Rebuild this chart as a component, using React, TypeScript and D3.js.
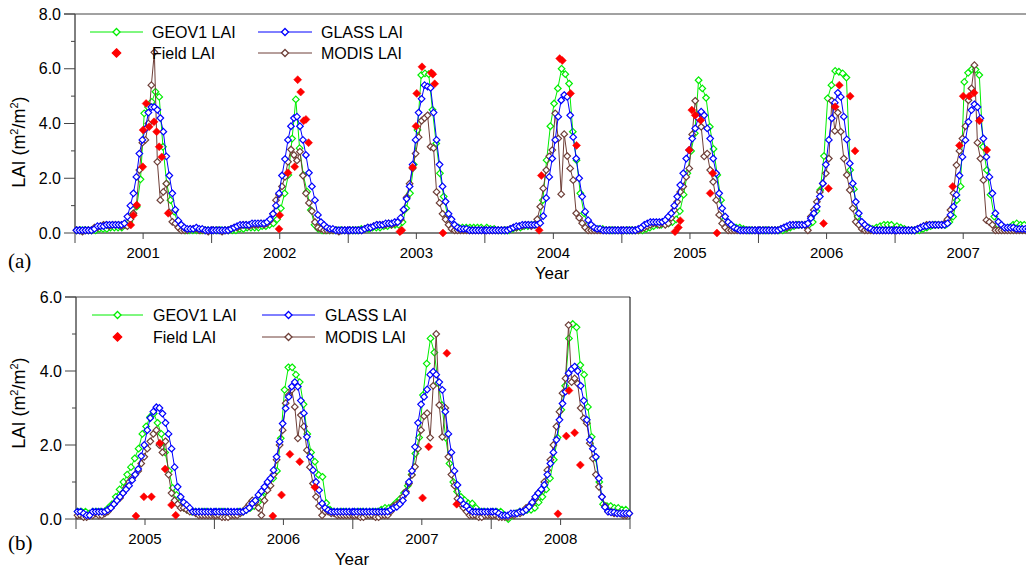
import React from "react";
import * as d3 from "d3";

// ---------- panel (a): 2001-2007 ----------
const yearsA = [2001, 2002, 2003, 2004, 2005, 2006, 2007];

// GLASS LAI, 8-day, 46 values per year
const glassA = [
  [0.1,0.1,0.1,0.1,0.1,0.1,0.15,0.25,0.25,0.25, 0.3,0.3,0.3,0.3,0.3,0.3,0.35,0.6,1.0,1.45, 2.05,2.9,3.4,3.8,4.4,4.6,4.6,4.5,4.2,3.7, 2.8,2.1,1.45,0.85,0.45,0.3,0.2,0.15,0.15,0.15, 0.2,0.15,0.15,0.1,0.1,0.1],
  [0.1,0.1,0.1,0.1,0.1,0.1,0.15,0.2,0.25,0.3, 0.3,0.3,0.3,0.35,0.35,0.35,0.35,0.35,0.4,0.5, 0.7,1.0,1.45,2.1,2.7,3.4,3.9,4.2,4.25,3.9, 3.4,2.85,2.2,1.7,1.2,0.66,0.4,0.3,0.2,0.15, 0.15,0.1,0.1,0.1,0.1,0.1],
  [0.1,0.1,0.1,0.1,0.1,0.15,0.2,0.2,0.25,0.3, 0.3,0.3,0.35,0.35,0.35,0.4,0.4,0.55,0.85,1.25, 1.7,2.5,3.4,4.4,4.9,5.4,5.35,5.3,4.4,3.4, 2.5,1.7,1.15,0.7,0.5,0.3,0.2,0.15,0.15,0.15, 0.1,0.1,0.1,0.1,0.1,0.1],
  [0.1,0.1,0.1,0.1,0.1,0.1,0.1,0.1,0.15,0.2, 0.25,0.25,0.3,0.3,0.3,0.3,0.3,0.3,0.36,0.62, 1.28,2.05,2.72,3.4,4.25,4.85,5.04,4.97,4.3,3.5, 2.72,2.0,1.33,0.78,0.47,0.3,0.2,0.15,0.15,0.1, 0.1,0.1,0.1,0.1,0.1,0.1],
  [0.1,0.1,0.1,0.1,0.1,0.15,0.2,0.3,0.35,0.4, 0.4,0.4,0.4,0.41,0.47,0.6,0.72,1.0,1.33,1.75, 2.18,2.72,3.03,3.45,3.82,4.19,4.43,4.3,3.82,3.45, 2.72,2.18,1.45,0.9,0.6,0.4,0.3,0.2,0.15,0.1, 0.1,0.1,0.1,0.1,0.1,0.1],
  [0.1,0.1,0.1,0.1,0.1,0.1,0.1,0.15,0.2,0.25, 0.3,0.3,0.3,0.3,0.3,0.3,0.35,0.54,0.72,0.96, 1.33,1.81,2.5,3.4,4.19,4.76,5.12,4.97,4.25,3.42, 2.54,1.81,1.14,0.72,0.41,0.3,0.2,0.15,0.1,0.1, 0.1,0.1,0.1,0.1,0.1,0.1],
  [0.1,0.1,0.1,0.1,0.1,0.1,0.1,0.15,0.2,0.25, 0.25,0.3,0.3,0.3,0.3,0.3,0.3,0.35,0.66,0.96, 1.39,2.1,2.78,3.39,4.06,4.49,4.7,4.6,4.19,3.45, 2.78,2.05,1.45,0.72,0.41,0.3,0.2,0.2,0.2,0.2, 0.15,0.15,0.15,0.15,0.15,0.15],
];

// MODIS LAI, 8-day, 46 values per year
const modisA = [
  [0.1,0.1,0.05,0.1,0.1,0.1,0.2,0.2,0.25,0.3, 0.3,0.25,0.3,0.3,0.3,0.25,0.3,0.25,0.5,0.72, 1.0,2.3,3.3,3.4,4.0,5.4,6.6,2.6,1.2,1.5, 1.8,0.75,0.41,0.35,0.2,0.1,0.1,0.1,0.15,0.15, 0.15,0.1,0.1,0.1,0.05,0.1],
  [0.1,0.1,0.1,0.05,0.1,0.1,0.15,0.2,0.2,0.25, 0.3,0.3,0.25,0.3,0.3,0.3,0.35,0.3,0.35,0.45, 0.7,1.2,1.4,1.7,2.05,2.6,3.05,2.85,2.65,2.97, 2.1,1.45,1.1,0.8,0.4,0.2,0.15,0.1,0.1,0.1, 0.1,0.1,0.05,0.1,0.1,0.1],
  [0.1,0.1,0.1,0.1,0.1,0.15,0.2,0.2,0.25,0.3, 0.3,0.3,0.3,0.35,0.3,0.35,0.4,0.5,0.84,1.3, 1.8,2.36,2.9,3.5,4.1,4.2,4.3,3.15,3.1,1.5, 1.1,0.7,0.5,0.3,0.15,0.1,0.1,0.1,0.1,0.1, 0.1,0.1,0.1,0.1,0.1,0.1],
  [0.1,0.1,0.1,0.1,0.1,0.1,0.1,0.1,0.15,0.2, 0.2,0.25,0.25,0.3,0.3,0.25,0.3,0.5,0.96,1.63, 2.3,2.8,3.03,4.37,3.45,1.42,3.61,2.81,2.36,1.93, 0.72,0.55,0.36,0.2,0.1,0.1,0.1,0.1,0.1,0.1, 0.1,0.1,0.1,0.1,0.1,0.1],
  [0.1,0.1,0.1,0.1,0.1,0.1,0.15,0.2,0.25,0.3, 0.35,0.35,0.3,0.35,0.3,0.35,0.55,0.84,1.14,1.5, 1.7,2.05,2.36,3.6,4.83,4.25,3.88,2.8,2.9,2.3, 1.87,1.2,0.66,0.35,0.2,0.1,0.1,0.1,0.1,0.1, 0.1,0.1,0.1,0.1,0.1,0.1],
  [0.1,0.1,0.1,0.1,0.1,0.1,0.1,0.15,0.2,0.2, 0.25,0.3,0.3,0.3,0.3,0.3,0.1,0.6,0.84,1.14, 1.5,1.81,2.18,2.72,4.83,3.73,4.4,3.7,2.72,2.12, 1.57,0.9,0.41,0.3,0.15,0.1,0.1,0.1,0.1,0.1, 0.1,0.1,0.1,0.1,0.1,0.1],
  [0.1,0.1,0.1,0.1,0.1,0.1,0.1,0.15,0.2,0.25, 0.3,0.3,0.3,0.3,0.3,0.3,0.35,0.5,0.84,1.45, 2.48,3.0,3.45,3.9,4.85,5.28,6.13,3.3,2.72,1.93, 0.47,0.4,0.3,0.1,0.1,0.1,0.1,0.1,0.1,0.1, 0.1,0.1,0.1,0.1,0.1,0.1],
];

// GEOV1 LAI, 10-day, 36 values per year
const geov1A = [
  [0.1,0.1,0.1,0.1,0.1,0.1,0.15,0.15,0.15,0.2, 0.2,0.2,0.2,0.3,0.4,0.7,0.96,1.96,4.37,4.6, 4.79,5.16,4.97,3.15,1.8,1.2,0.78,0.35,0.15,0.1, 0.1,0.1,0.1,0.1,0.1,0.1],
  [0.1,0.1,0.1,0.1,0.1,0.1,0.1,0.15,0.15,0.2, 0.2,0.2,0.2,0.25,0.25,0.3,0.35,0.5,0.9,1.45, 2.12,3.45,4.88,3.1,2.12,1.51,0.84,0.3,0.15,0.1, 0.1,0.1,0.1,0.1,0.1,0.1],
  [0.1,0.1,0.1,0.15,0.15,0.15,0.2,0.2,0.2,0.25, 0.25,0.3,0.3,0.3,0.4,0.9,1.45,2.5,3.76,5.77, 5.83,5.8,4.5,3.27,2.18,1.33,0.66,0.36,0.2,0.2, 0.2,0.2,0.2,0.2,0.2,0.2],
  [0.2,0.15,0.15,0.1,0.1,0.1,0.1,0.15,0.2,0.2, 0.25,0.25,0.3,0.3,0.4,1.2,2.66,3.9,4.73,5.28, 6.0,5.8,5.46,3.7,2.66,1.45,0.72,0.3,0.2,0.15, 0.15,0.15,0.1,0.1,0.1,0.1],
  [0.1,0.1,0.1,0.1,0.1,0.1,0.15,0.2,0.25,0.3, 0.3,0.35,0.35,0.4,0.5,0.8,1.4,2.18,3.0,3.64, 5.58,5.28,4.94,3.88,3.07,2.12,1.2,0.5,0.3,0.2, 0.2,0.2,0.15,0.1,0.1,0.1],
  [0.1,0.1,0.1,0.1,0.1,0.1,0.1,0.15,0.2,0.25, 0.3,0.3,0.3,0.3,0.4,0.8,1.57,2.81,4.92,5.4, 5.92,5.89,5.83,5.68,2.3,1.6,0.6,0.35,0.2,0.2, 0.15,0.2,0.25,0.3,0.3,0.3],
  [0.25,0.2,0.15,0.1,0.1,0.1,0.1,0.15,0.2,0.25, 0.3,0.3,0.3,0.3,0.4,0.6,1.2,1.7,5.52,5.85, 5.98,5.97,5.77,3.15,2.3,1.4,0.6,0.3,0.2,0.15, 0.2,0.3,0.35,0.3,0.3,0.2],
];

// Field LAI: [year, day of year, LAI]
const fieldA = [
  [2001,149,0.29],[2001,156,0.65],[2001,165,1.02],[2001,181,2.42],[2001,182,3.76],[2001,190,4.73],[2001,198,3.88],[2001,211,4.06],[2001,218,3.7],[2001,225,3.15],[2001,232,2.78],[2001,249,0.72],
  [2002,180,0.15],[2002,182,0.65],[2002,204,2.2],[2002,222,2.42],[2002,230,5.6],[2002,238,5.15],[2002,246,4.1],[2002,252,4.15],[2002,259,3.3],
  [2003,138,0.05],[2003,143,0.1],[2003,172,2.4],[2003,181,3.9],[2003,183,5.1],[2003,197,6.07],[2003,222,5.85],[2003,226,5.8],[2003,231,5.45],[2003,253,0.0],
  [2004,145,0.1],[2004,151,2.1],[2004,200,6.37],[2004,207,6.3],[2004,229,5.1],[2004,245,3.2],
  [2005,142,0.05],[2005,151,0.2],[2005,156,0.45],[2005,180,3.03],[2005,187,4.49],[2005,196,4.3],[2005,211,4.12],[2005,236,1.45],[2005,243,2.18],[2005,254,0.0],
  [2006,174,0.35],[2006,187,1.63],[2006,205,4.61],[2006,216,5.4],[2006,245,5.0],[2006,258,3.0],
  [2007,154,1.7],[2007,172,3.2],[2007,182,5.0],[2007,198,5.0],[2007,211,5.12],[2007,225,4.1],[2007,245,3.03],
];

// ---------- panel (b): 2005-2008 ----------
const yearsB = [2005, 2006, 2007, 2008];

const glassB = [
  [0.2,0.2,0.15,0.1,0.1,0.2,0.2,0.2,0.2,0.2, 0.25,0.3,0.4,0.5,0.6,0.7,0.8,0.9,1.05,1.2, 1.35,1.7,2.0,2.4,2.73,2.9,3.02,3.0,2.85,2.6, 2.3,1.9,1.4,0.87,0.6,0.45,0.38,0.3,0.2,0.2, 0.2,0.2,0.2,0.2,0.2,0.2],
  [0.2,0.2,0.2,0.2,0.2,0.2,0.2,0.2,0.2,0.2, 0.24,0.3,0.42,0.5,0.65,0.75,0.87,1.0,1.1,1.32, 1.68,2.09,2.58,2.99,3.3,3.58,3.7,3.58,3.2,2.86, 2.22,1.68,1.32,1.0,0.78,0.42,0.3,0.24,0.2,0.2, 0.2,0.2,0.2,0.2,0.2,0.2],
  [0.2,0.2,0.2,0.2,0.2,0.2,0.2,0.2,0.2,0.2, 0.2,0.2,0.25,0.3,0.33,0.4,0.5,0.7,1.0,1.3, 1.95,2.6,3.1,3.3,3.5,3.9,3.98,3.9,3.7,3.49, 2.9,2.3,1.8,1.3,0.92,0.51,0.4,0.35,0.25,0.2, 0.2,0.2,0.2,0.2,0.2,0.2],
  [0.2,0.2,0.15,0.1,0.1,0.1,0.15,0.15,0.15,0.2, 0.2,0.25,0.33,0.45,0.6,0.7,0.8,0.92,1.2,1.5, 1.8,2.14,2.68,3.12,3.44,3.94,4.05,4.12,4.0,3.6, 3.2,2.68,2.14,1.9,1.68,1.1,0.6,0.32,0.2,0.18, 0.18,0.15,0.15,0.15,0.15,0.15],
];

const modisB = [
  [0.1,0.1,0.05,0.05,0.1,0.1,0.15,0.1,0.1,0.15, 0.2,0.3,0.4,0.5,0.57,0.7,0.85,1.0,1.1,1.2, 1.3,1.5,1.68,1.9,2.1,2.3,2.4,2.0,1.8,2.1, 1.2,0.7,0.5,0.4,0.3,0.3,0.25,0.2,0.2,0.15, 0.1,0.1,0.1,0.1,0.1,0.1],
  [0.1,0.1,0.05,0.05,0.05,0.1,0.1,0.1,0.15,0.2, 0.3,0.4,0.5,0.45,0.3,0.1,0.5,0.78,0.9,1.2, 1.6,2.0,2.4,3.13,3.35,3.49,3.03,2.18,2.81,2.5, 1.86,1.4,0.96,0.6,0.35,0.1,0.2,0.2,0.15,0.15, 0.1,0.1,0.1,0.1,0.1,0.1],
  [0.1,0.1,0.05,0.05,0.1,0.1,0.1,0.05,0.05,0.1, 0.1,0.1,0.2,0.35,0.4,0.45,0.6,0.74,0.96,1.19, 1.41,1.9,2.4,2.78,2.86,2.2,3.6,5.0,3.08,2.22, 3.0,1.68,1.2,0.9,0.55,0.4,0.3,0.2,0.1,0.1, 0.1,0.05,0.05,0.1,0.1,0.1],
  [0.1,0.1,0.05,0.05,0.05,0.05,0.1,0.1,0.15,0.15, 0.2,0.3,0.35,0.42,0.55,0.7,0.78,1.0,1.32,1.6, 2.0,2.5,2.9,3.4,3.8,5.24,3.7,3.8,3.66,3.0, 2.72,2.59,2.05,1.64,1.2,0.87,0.6,0.35,0.2,0.2, 0.15,0.15,0.15,0.1,0.1,0.15],
];

const geov1B = [
  [0.2,0.2,0.2,0.15,0.2,0.2,0.2,0.2,0.3,0.4, 0.6,0.8,1.0,1.2,1.4,1.64,1.9,2.3,2.5,2.75, 2.85,2.6,2.3,1.8,1.3,0.84,0.65,0.45,0.3,0.25, 0.2,0.2,0.2,0.2,0.2,0.2],
  [0.2,0.2,0.2,0.2,0.15,0.15,0.2,0.2,0.25,0.3, 0.35,0.45,0.6,0.75,0.9,1.1,1.3,2.18,3.49,4.1, 4.1,3.9,3.7,3.1,2.3,1.8,1.55,1.19,1.14,0.43, 0.25,0.2,0.2,0.2,0.2,0.2],
  [0.2,0.2,0.2,0.2,0.2,0.2,0.2,0.25,0.3,0.3, 0.35,0.45,0.55,0.7,0.9,1.2,1.77,2.2,3.35,4.2, 4.88,4.5,3.67,3.08,2.2,1.5,1.0,0.74,0.6,0.51, 0.42,0.42,0.3,0.2,0.2,0.2],
  [0.2,0.2,0.2,0.1,0.0,0.1,0.15,0.2,0.2,0.25, 0.25,0.3,0.45,0.6,0.8,1.1,1.6,2.2,2.95,3.6, 4.88,5.27,5.18,4.16,3.9,3.03,2.22,1.65,1.0,0.4, 0.35,0.35,0.3,0.3,0.25,0.25],
];

const fieldB = [
  [2005,158,0.08],[2005,179,0.6],[2005,199,0.6],[2005,221,2.05],[2005,235,1.35],[2005,252,0.38],[2005,263,0.1],
  [2006,154,0.08],[2006,177,0.65],[2006,199,1.75],[2006,225,1.55],[2006,265,0.86],
  [2007,184,0.57],[2007,200,1.95],[2007,248,4.48],[2007,274,0.4],
  [2008,176,0.14],[2008,198,2.24],[2008,205,3.47],[2008,220,2.33],[2008,235,1.46],
];

const C = {
  geov1: "#00ee00",
  glass: "#0000ff",
  modis: "#6e3f38",
  field: "#ff0000",
};
const SANS = "Arial, 'Liberation Sans', sans-serif";
const SERIF = "'Times New Roman', 'Liberation Serif', serif";

const diamond = (x: number, y: number, r: number) =>
  `M${x},${y - r}L${x + r},${y}L${x},${y + r}L${x - r},${y}Z`;

function Series({ pts, color }: { pts: [number, number][]; color: string }) {
  const line = d3.line();
  return (
    <g>
      <path d={line(pts) || ""} fill="none" stroke={color} strokeWidth={1} />
      {pts.map((p, i) => (
        <path key={i} d={diamond(p[0], p[1], 3.3)} fill="#fff" stroke={color} strokeWidth={1.2} />
      ))}
    </g>
  );
}

function Panel(props: any) {
  const { cfg, years, geov1, glass, modis, field } = props;
  const x = d3
    .scaleTime()
    .domain([new Date(cfg.from, 0, 1), new Date(cfg.to, 0, 1)])
    .range([cfg.left, cfg.right]);
  const y = d3.scaleLinear().domain([0, cfg.yMax]).range([cfg.bottom, cfg.top]);

  const series = (arr: number[][], step: number, off: number) =>
    arr.flatMap((vals, k) =>
      vals.map((v, i) => [x(new Date(years[k], 0, 1 + step * i + off)), y(v)] as [number, number])
    );

  const yearStarts = d3.range(cfg.from, cfg.to + 1);
  const yMajor = d3.range(0, cfg.yMax + 1, 2);
  const yMinor = d3.range(1, cfg.yMax, 2);
  const lg = cfg.legend;

  return (
    <g>
      {/* axes */}
      <line x1={cfg.left} x2={cfg.left} y1={cfg.top} y2={cfg.bottom} stroke="#000" />
      <line x1={cfg.left} x2={cfg.frameRight} y1={cfg.bottom} y2={cfg.bottom} stroke="#000" />
      <line x1={cfg.left - 11} x2={cfg.frameRight} y1={cfg.top} y2={cfg.top} stroke="#444" />
      {cfg.hasRight && (
        <line x1={cfg.frameRight} x2={cfg.frameRight} y1={cfg.top} y2={cfg.bottom} stroke="#000" />
      )}
      {yMajor.map((v) => (
        <g key={"ym" + v}>
          <line x1={cfg.left - 11} x2={cfg.left} y1={y(v)} y2={y(v)} stroke="#444" />
          <text x={cfg.left - 14} y={y(v) + 5.5} textAnchor="end" fontSize={16} fontFamily={SANS}>
            {d3.format(".1f")(v)}
          </text>
        </g>
      ))}
      {yMinor.map((v) => (
        <line key={"yn" + v} x1={cfg.left - 4} x2={cfg.left} y1={y(v)} y2={y(v)} stroke="#444" />
      ))}
      {yearStarts.map((yr) => (
        <line key={"xs" + yr} x1={x(new Date(yr, 0, 1))} x2={x(new Date(yr, 0, 1))} y1={cfg.bottom} y2={cfg.bottom + 10} stroke="#444" />
      ))}
      {years.map((yr: number) => (
        <g key={"xl" + yr}>
          <line x1={x(new Date(yr, 6, 2))} x2={x(new Date(yr, 6, 2))} y1={cfg.bottom} y2={cfg.bottom + 6} stroke="#444" />
          <text x={x(new Date(yr, 6, 2))} y={cfg.bottom + 25} textAnchor="middle" fontSize={15} fontFamily={SANS}>
            {yr}
          </text>
        </g>
      ))}
      <text x={cfg.yearX} y={cfg.yearY} textAnchor="middle" fontSize={17} fontFamily={SANS}>
        Year
      </text>
      <text x={8} y={cfg.tagY} fontSize={21} fontFamily={SERIF}>
        {cfg.tag}
      </text>
      <text
        transform={`translate(${25},${cfg.titleY}) rotate(-90)`}
        textAnchor="middle"
        fontSize={18}
        fontFamily={SANS}
      >
        LAI (m<tspan fontSize={11} dy={-7}>2</tspan>
        <tspan dy={7}>/m</tspan>
        <tspan fontSize={11} dy={-7}>2</tspan>
        <tspan dy={7}>)</tspan>
      </text>

      {/* data */}
      <Series pts={series(geov1, 10, 5)} color={C.geov1} />
      <Series pts={series(modis, 8, 4)} color={C.modis} />
      <Series pts={series(glass, 8, 4)} color={C.glass} />
      {field.map((f: number[], i: number) => (
        <path
          key={"f" + i}
          d={diamond(x(new Date(f[0], 0, 1 + f[1])), y(f[2]), 4)}
          fill={C.field}
          stroke={C.field}
          strokeWidth={0.5}
        />
      ))}

      {/* legend */}
      {[
        { name: "GEOV1 LAI", color: C.geov1, col: 0, row: 0, line: true },
        { name: "Field LAI", color: C.field, col: 0, row: 1, line: false },
        { name: "GLASS LAI", color: C.glass, col: 1, row: 0, line: true },
        { name: "MODIS LAI", color: C.modis, col: 1, row: 1, line: true },
      ].map((e) => {
        const x0 = lg.cols[e.col][0];
        const x1 = lg.cols[e.col][1];
        const yy = lg.rows[e.row];
        const xm = (x0 + x1) / 2;
        return (
          <g key={e.name}>
            {e.line && <line x1={x0} x2={x1} y1={yy} y2={yy} stroke={e.color} />}
            <path
              d={diamond(xm, yy, e.line ? 3.5 : 4.2)}
              fill={e.line ? "#fff" : e.color}
              stroke={e.color}
              strokeWidth={1.3}
            />
            <text x={x1 + lg.gap} y={yy + 6} fontSize={16} fontFamily={SANS}>
              {e.name}
            </text>
          </g>
        );
      })}
    </g>
  );
}

const cfgA = {
  from: 2001, to: 2008, left: 75, right: 1031.7, frameRight: 1026, hasRight: false,
  top: 14, bottom: 233, yMax: 8, yearX: 552, yearY: 279, tag: "(a)", tagY: 268, titleY: 142,
  legend: { cols: [[90, 143], [258, 312]], rows: [32, 53], gap: 9 },
};
const cfgB = {
  from: 2005, to: 2009, left: 76, right: 630, frameRight: 630, hasRight: true,
  top: 297, bottom: 519, yMax: 6, yearX: 352, yearY: 565, tag: "(b)", tagY: 550, titleY: 403,
  legend: { cols: [[92, 143], [262, 315]], rows: [315, 337], gap: 10 },
};

export default function App() {
  return (
    <svg
      width={1026}
      height={569}
      style={{ position: "absolute", left: 0, top: 0, background: "#fff" }}
    >
      <rect width={1026} height={569} fill="#fff" />
      <Panel cfg={cfgA} years={yearsA} geov1={geov1A} glass={glassA} modis={modisA} field={fieldA} />
      <Panel cfg={cfgB} years={yearsB} geov1={geov1B} glass={glassB} modis={modisB} field={fieldB} />
    </svg>
  );
}
